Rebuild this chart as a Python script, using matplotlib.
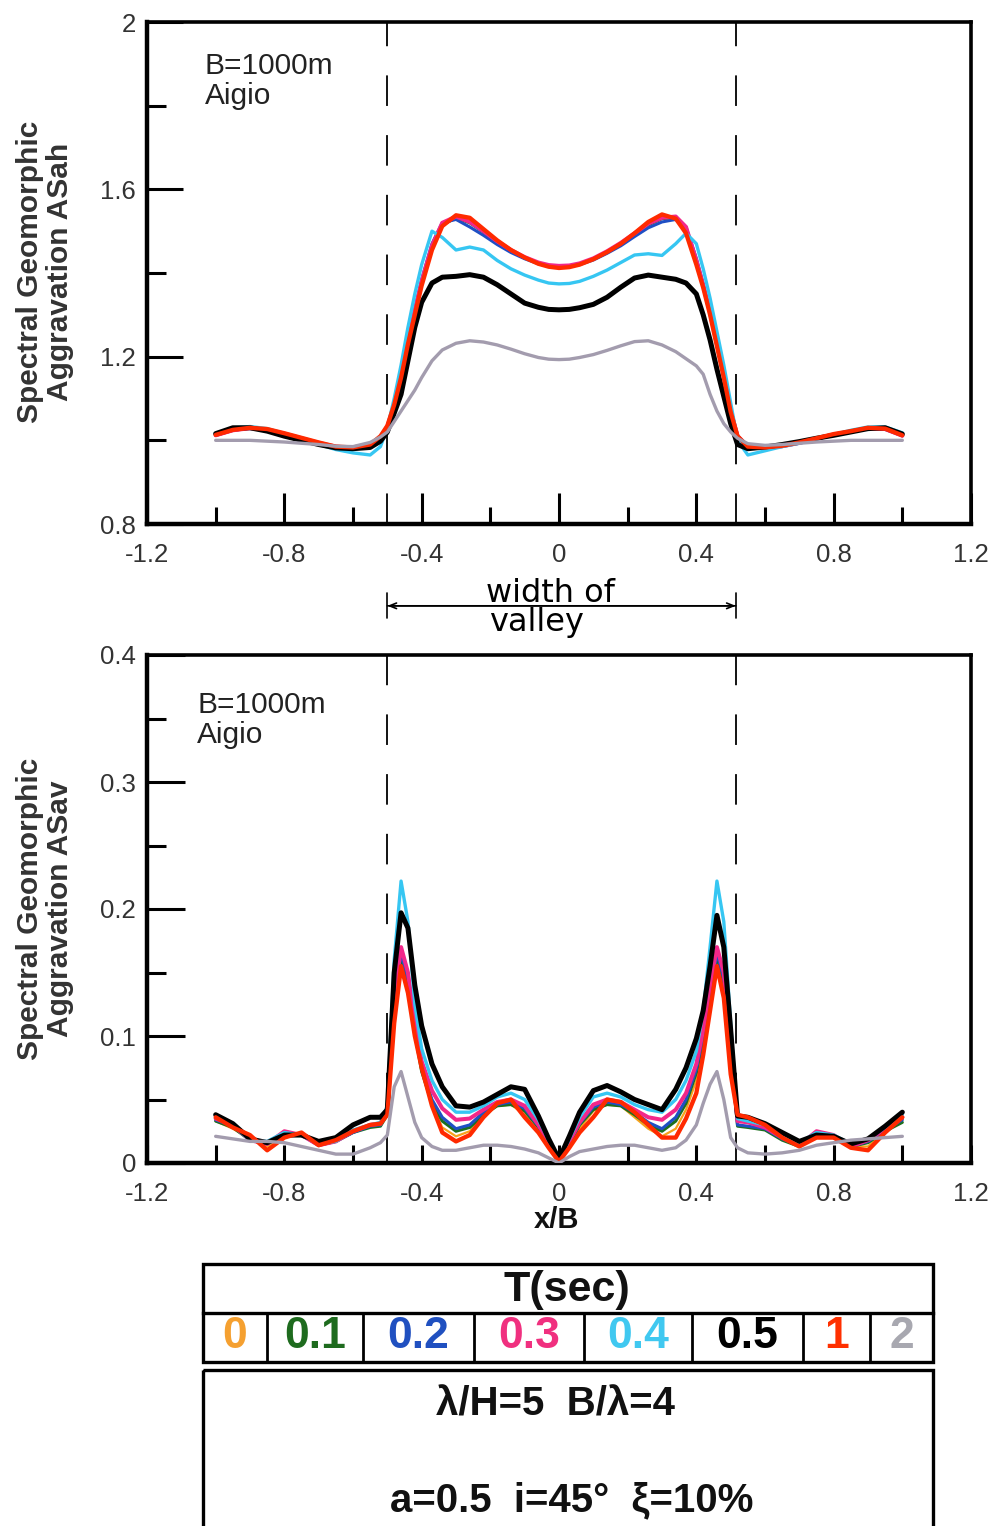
import matplotlib
matplotlib.use("Agg")
import matplotlib.pyplot as plt
from matplotlib.patches import Rectangle
from matplotlib.ticker import MultipleLocator, FuncFormatter

plt.rcParams['font.family'] = ['Liberation Sans', 'DejaVu Sans']
plt.rcParams['axes.unicode_minus'] = False
plt.rcParams['lines.scale_dashes'] = False

# ---------------------------------------------------------------- data
# normalised position across the valley
X = [-1.0, -0.95, -0.9, -0.85, -0.8, -0.75, -0.7, -0.65, -0.6, -0.55,
     -0.52, -0.5, -0.48, -0.46, -0.44, -0.42, -0.4, -0.37, -0.34, -0.3,
     -0.26, -0.22, -0.18, -0.14, -0.1, -0.06, -0.03, 0.0, 0.03, 0.06,
     0.1, 0.14, 0.18, 0.22, 0.26, 0.3, 0.34, 0.37, 0.4, 0.42,
     0.44, 0.46, 0.48, 0.5, 0.52, 0.55, 0.6, 0.65, 0.7, 0.75,
     0.8, 0.85, 0.9, 0.95, 1.0]

PERIODS = ['0', '0.1', '0.2', '0.3', '0.4', '0.5', '1', '2']
COLORS = ['#f7a21b', '#1d6f1d', '#1f4fc4', '#f2278a', '#36c6f2',
          '#000000', '#ff2a00', '#a39cae']
LEGEND_COLORS = ['#f5a030', '#1e6b1e', '#2050c0', '#f0307f', '#40c8f0',
                 '#000000', '#ff3000', '#a8a8b0']
LINE_WIDTHS = [1.6, 2.2, 2.2, 2.9, 2.4, 3.6, 3.1, 2.4]
DRAW_ORDER = [0, 1, 2, 3, 7, 4, 5, 6]

VALLEY_EDGES = [-0.5, 0.515]

# horizontal spectral aggravation ASah
ASAH_T0 = [1.012, 1.024, 1.029, 1.026, 1.016, 1.005, 0.994, 0.985, 0.982, 0.989,
           1.009, 1.034, 1.086, 1.152, 1.232, 1.303, 1.372, 1.457, 1.512, 1.535,
           1.528, 1.502, 1.476, 1.454, 1.436, 1.422, 1.416, 1.414, 1.415, 1.421,
           1.434, 1.450, 1.469, 1.493, 1.519, 1.536, 1.531, 1.500, 1.425, 1.368,
           1.302, 1.228, 1.152, 1.070, 1.011, 0.985, 0.982, 0.986, 0.994, 1.004,
           1.014, 1.021, 1.029, 1.027, 1.011]
ASAH_T01 = [1.012, 1.024, 1.029, 1.026, 1.016, 1.005, 0.994, 0.985, 0.982, 0.988,
            1.008, 1.034, 1.086, 1.155, 1.232, 1.305, 1.375, 1.460, 1.515, 1.532,
            1.520, 1.498, 1.474, 1.453, 1.436, 1.423, 1.417, 1.415, 1.416, 1.421,
            1.433, 1.449, 1.469, 1.492, 1.515, 1.530, 1.532, 1.505, 1.430, 1.370,
            1.305, 1.230, 1.155, 1.070, 1.010, 0.985, 0.982, 0.986, 0.994, 1.004,
            1.014, 1.021, 1.029, 1.027, 1.011]
ASAH_T02 = [1.012, 1.024, 1.029, 1.025, 1.015, 1.004, 0.993, 0.984, 0.981, 0.987,
            1.007, 1.033, 1.088, 1.160, 1.240, 1.315, 1.385, 1.470, 1.520, 1.528,
            1.510, 1.490, 1.468, 1.449, 1.434, 1.422, 1.416, 1.414, 1.415, 1.420,
            1.431, 1.447, 1.465, 1.487, 1.508, 1.522, 1.528, 1.510, 1.435, 1.375,
            1.310, 1.235, 1.160, 1.075, 1.012, 0.984, 0.981, 0.985, 0.993, 1.003,
            1.013, 1.021, 1.028, 1.026, 1.011]
ASAH_T03 = [1.012, 1.024, 1.029, 1.026, 1.016, 1.005, 0.994, 0.985, 0.982, 0.988,
            1.008, 1.033, 1.085, 1.155, 1.235, 1.310, 1.380, 1.465, 1.520, 1.535,
            1.522, 1.500, 1.476, 1.455, 1.438, 1.425, 1.419, 1.417, 1.418, 1.423,
            1.435, 1.452, 1.472, 1.495, 1.518, 1.532, 1.535, 1.510, 1.430, 1.370,
            1.305, 1.230, 1.155, 1.070, 1.010, 0.985, 0.982, 0.986, 0.994, 1.004,
            1.014, 1.021, 1.029, 1.027, 1.011]
ASAH_T04 = [1.016, 1.030, 1.033, 1.028, 1.016, 1.003, 0.990, 0.978, 0.970, 0.965,
            0.985, 1.030, 1.100, 1.180, 1.270, 1.350, 1.420, 1.500, 1.485, 1.455,
            1.462, 1.455, 1.430, 1.410, 1.395, 1.383, 1.376, 1.374, 1.375, 1.380,
            1.392, 1.407, 1.425, 1.443, 1.446, 1.442, 1.470, 1.495, 1.470, 1.410,
            1.340, 1.260, 1.180, 1.090, 1.000, 0.965, 0.975, 0.985, 0.993, 1.003,
            1.014, 1.024, 1.032, 1.032, 1.018]
ASAH_T05 = [1.016, 1.030, 1.030, 1.022, 1.010, 1.000, 0.990, 0.982, 0.980, 0.983,
            0.998, 1.020, 1.065, 1.110, 1.190, 1.270, 1.330, 1.376, 1.390, 1.392,
            1.396, 1.390, 1.372, 1.350, 1.328, 1.318, 1.313, 1.312, 1.313, 1.317,
            1.325, 1.342, 1.366, 1.388, 1.395, 1.390, 1.385, 1.376, 1.350, 1.300,
            1.240, 1.170, 1.105, 1.040, 0.990, 0.980, 0.984, 0.990, 0.997, 1.005,
            1.012, 1.020, 1.028, 1.030, 1.015]
ASAH_T1 = [1.013, 1.025, 1.030, 1.027, 1.017, 1.006, 0.995, 0.985, 0.983, 0.990,
           1.010, 1.035, 1.085, 1.150, 1.230, 1.300, 1.370, 1.455, 1.512, 1.538,
           1.532, 1.505, 1.478, 1.455, 1.437, 1.422, 1.415, 1.412, 1.414, 1.420,
           1.433, 1.450, 1.470, 1.495, 1.522, 1.540, 1.530, 1.495, 1.420, 1.365,
           1.300, 1.225, 1.150, 1.068, 1.010, 0.985, 0.983, 0.987, 0.995, 1.005,
           1.015, 1.022, 1.030, 1.028, 1.012]
ASAH_T2 = [1.000, 1.000, 1.000, 0.998, 0.996, 0.993, 0.990, 0.986, 0.985, 0.995,
           1.008, 1.020, 1.045, 1.070, 1.095, 1.120, 1.150, 1.190, 1.216, 1.232,
           1.238, 1.235, 1.228, 1.218, 1.207, 1.198, 1.194, 1.193, 1.194, 1.198,
           1.205, 1.215, 1.226, 1.236, 1.238, 1.228, 1.212, 1.195, 1.178, 1.158,
           1.110, 1.070, 1.040, 1.020, 1.005, 0.992, 0.988, 0.990, 0.993, 0.996,
           0.998, 1.000, 1.000, 1.000, 1.000]

# vertical spectral aggravation ASav
ASAV_T0 = [0.033, 0.027, 0.019, 0.013, 0.022, 0.023, 0.014, 0.017, 0.024, 0.029,
           0.030, 0.038, 0.120, 0.160, 0.140, 0.100, 0.072, 0.045, 0.028, 0.021,
           0.025, 0.037, 0.045, 0.046, 0.038, 0.025, 0.013, 0.001, 0.013, 0.027,
           0.041, 0.046, 0.045, 0.036, 0.027, 0.021, 0.027, 0.042, 0.065, 0.092,
           0.128, 0.160, 0.140, 0.082, 0.034, 0.033, 0.028, 0.019, 0.013, 0.021,
           0.020, 0.013, 0.013, 0.025, 0.034]
ASAV_T01 = [0.033, 0.028, 0.018, 0.015, 0.023, 0.022, 0.014, 0.017, 0.024, 0.028,
            0.029, 0.038, 0.126, 0.163, 0.142, 0.102, 0.072, 0.047, 0.033, 0.025,
            0.028, 0.038, 0.045, 0.046, 0.041, 0.028, 0.014, 0.002, 0.015, 0.030,
            0.042, 0.046, 0.045, 0.038, 0.030, 0.025, 0.033, 0.047, 0.071, 0.097,
            0.132, 0.163, 0.142, 0.086, 0.029, 0.028, 0.026, 0.018, 0.013, 0.023,
            0.020, 0.013, 0.016, 0.025, 0.032]
ASAV_T02 = [0.034, 0.029, 0.018, 0.015, 0.024, 0.022, 0.014, 0.017, 0.024, 0.029,
            0.030, 0.039, 0.128, 0.165, 0.145, 0.105, 0.075, 0.050, 0.036, 0.027,
            0.030, 0.040, 0.046, 0.048, 0.043, 0.029, 0.015, 0.002, 0.016, 0.031,
            0.044, 0.048, 0.046, 0.040, 0.032, 0.027, 0.036, 0.050, 0.074, 0.100,
            0.135, 0.165, 0.145, 0.088, 0.030, 0.029, 0.027, 0.019, 0.014, 0.024,
            0.021, 0.013, 0.017, 0.026, 0.034]
ASAV_T03 = [0.035, 0.030, 0.018, 0.015, 0.025, 0.022, 0.014, 0.017, 0.025, 0.030,
            0.031, 0.040, 0.130, 0.170, 0.150, 0.110, 0.080, 0.057, 0.043, 0.034,
            0.035, 0.042, 0.048, 0.050, 0.045, 0.030, 0.016, 0.002, 0.017, 0.032,
            0.046, 0.050, 0.048, 0.042, 0.036, 0.034, 0.042, 0.055, 0.078, 0.105,
            0.140, 0.170, 0.150, 0.090, 0.033, 0.032, 0.028, 0.020, 0.014, 0.025,
            0.022, 0.013, 0.018, 0.027, 0.036]
ASAV_T04 = [0.036, 0.030, 0.018, 0.017, 0.024, 0.022, 0.015, 0.017, 0.026, 0.030,
            0.032, 0.045, 0.160, 0.222, 0.190, 0.125, 0.090, 0.065, 0.050, 0.040,
            0.040, 0.045, 0.052, 0.055, 0.050, 0.034, 0.018, 0.002, 0.019, 0.036,
            0.052, 0.055, 0.052, 0.046, 0.042, 0.040, 0.050, 0.065, 0.088, 0.120,
            0.170, 0.222, 0.190, 0.110, 0.035, 0.033, 0.030, 0.022, 0.016, 0.024,
            0.022, 0.015, 0.019, 0.028, 0.038]
ASAV_T05 = [0.038, 0.031, 0.019, 0.016, 0.022, 0.022, 0.017, 0.020, 0.030, 0.036,
            0.036, 0.042, 0.150, 0.197, 0.185, 0.140, 0.108, 0.078, 0.060, 0.045,
            0.044, 0.048, 0.054, 0.060, 0.058, 0.037, 0.019, 0.003, 0.021, 0.040,
            0.057, 0.061, 0.056, 0.050, 0.046, 0.042, 0.058, 0.075, 0.098, 0.120,
            0.155, 0.195, 0.170, 0.105, 0.037, 0.036, 0.031, 0.024, 0.017, 0.022,
            0.021, 0.015, 0.019, 0.029, 0.040]
ASAV_T1 = [0.036, 0.028, 0.022, 0.010, 0.020, 0.024, 0.014, 0.018, 0.025, 0.030,
           0.031, 0.038, 0.110, 0.155, 0.134, 0.100, 0.075, 0.045, 0.024, 0.017,
           0.022, 0.036, 0.047, 0.050, 0.036, 0.024, 0.012, 0.001, 0.012, 0.024,
           0.036, 0.050, 0.048, 0.040, 0.030, 0.020, 0.020, 0.035, 0.055, 0.085,
           0.120, 0.155, 0.130, 0.070, 0.038, 0.036, 0.030, 0.020, 0.013, 0.020,
           0.020, 0.012, 0.010, 0.024, 0.036]
ASAV_T2 = [0.021, 0.019, 0.017, 0.017, 0.016, 0.013, 0.010, 0.007, 0.007, 0.012,
           0.016, 0.022, 0.060, 0.072, 0.052, 0.032, 0.020, 0.013, 0.010, 0.010,
           0.012, 0.014, 0.014, 0.013, 0.011, 0.008, 0.004, 0.000, 0.005, 0.009,
           0.011, 0.013, 0.014, 0.014, 0.012, 0.010, 0.012, 0.018, 0.030, 0.047,
           0.062, 0.072, 0.050, 0.020, 0.012, 0.008, 0.007, 0.008, 0.010, 0.014,
           0.016, 0.018, 0.019, 0.020, 0.021]

ASAH = [ASAH_T0, ASAH_T01, ASAH_T02, ASAH_T03, ASAH_T04, ASAH_T05, ASAH_T1, ASAH_T2]
ASAV = [ASAV_T0, ASAV_T01, ASAV_T02, ASAV_T03, ASAV_T04, ASAV_T05, ASAV_T1, ASAV_T2]

TEXT_GREY = '#333333'

# ---------------------------------------------------------------- figure
fig = plt.figure(figsize=(9.96, 15.26), dpi=100)
W, H = 996.0, 1526.0
ax1 = fig.add_axes([147 / W, 1 - 524 / H, 824 / W, 502 / H])
ax2 = fig.add_axes([147 / W, 1 - 1163 / H, 824 / W, 508 / H])


def fmt(v, _pos):
    return ('%g' % round(v, 3))


def style(ax, ylim, ymaj, ymin, ymaj_len, ymin_len, xmaj_len, xmin_len):
    ax.set_xlim(-1.2, 1.2)
    ax.set_ylim(*ylim)
    ax.xaxis.set_major_locator(MultipleLocator(0.4))
    ax.xaxis.set_minor_locator(MultipleLocator(0.2))
    ax.yaxis.set_major_locator(MultipleLocator(ymaj))
    ax.yaxis.set_minor_locator(MultipleLocator(ymin))
    ax.xaxis.set_major_formatter(FuncFormatter(fmt))
    ax.yaxis.set_major_formatter(FuncFormatter(fmt))
    ax.tick_params(which='both', direction='in', width=2.2, color='black',
                   labelcolor=TEXT_GREY, labelsize=18.5, top=False, right=False)
    ax.tick_params(axis='y', which='major', length=ymaj_len, pad=8)
    ax.tick_params(axis='y', which='minor', length=ymin_len)
    ax.tick_params(axis='x', which='major', length=xmaj_len, pad=14)
    ax.tick_params(axis='x', which='minor', length=xmin_len)
    for side in ('left', 'bottom'):
        ax.spines[side].set_linewidth(3.2)
    for side in ('top', 'right'):
        ax.spines[side].set_linewidth(2.6)
    for edge in VALLEY_EDGES:
        ax.axvline(edge, color='black', lw=1.3, dashes=(22, 21), zorder=1)
    ax.text(0.07, 0.94, 'B=1000m\nAigio', transform=ax.transAxes,
            fontsize=21.5, color='#222222', va='top', ha='left', linespacing=1.1)


style(ax1, (0.8, 2.0), 0.4, 0.2, 26, 14, 22, 12)
style(ax2, (0.0, 0.4), 0.1, 0.05, 27, 14, 13, 13)
ax2.texts[0].set_position((0.061, 0.93))

for i in DRAW_ORDER:
    ax1.plot(X, ASAH[i], color=COLORS[i], lw=LINE_WIDTHS[i], zorder=3 + i,
             solid_joinstyle='round', solid_capstyle='round')
    ax2.plot(X, ASAV[i], color=COLORS[i], lw=LINE_WIDTHS[i], zorder=3 + i,
             solid_joinstyle='round', solid_capstyle='round')

# axis titles
fig.text(45 / W, 1 - 272 / H, 'Spectral Geomorphic\nAggravation ASah',
         rotation=90, ha='center', va='center', fontsize=21.5, fontweight='bold',
         color=TEXT_GREY, linespacing=1.08)
fig.text(45 / W, 1 - 909 / H, 'Spectral Geomorphic\nAggravation ASav',
         rotation=90, ha='center', va='center', fontsize=21.5, fontweight='bold',
         color=TEXT_GREY, linespacing=1.08)
fig.text(557 / W, 1 - 1220 / H, 'x/B', ha='center', va='center',
         fontsize=21, fontweight='bold', color='#111111')

# valley width marker below the upper panel
xt = ax1.get_xaxis_transform()
ax1.annotate('', xy=(VALLEY_EDGES[1], -0.163), xytext=(VALLEY_EDGES[0], -0.163),
             xycoords=xt, textcoords=xt, annotation_clip=False,
             arrowprops=dict(arrowstyle='|-|,widthA=0.9,widthB=0.9', lw=1.2,
                             color='black', shrinkA=0, shrinkB=0))
ax1.annotate('', xy=(VALLEY_EDGES[1], -0.163), xytext=(VALLEY_EDGES[0], -0.163),
             xycoords=xt, textcoords=xt, annotation_clip=False,
             arrowprops=dict(arrowstyle='<->,head_length=0.5,head_width=0.2',
                             lw=1.2, color='black', shrinkA=0, shrinkB=0))
ax1.text(-0.026, -0.155, 'width of', transform=xt, ha='center', va='baseline',
         fontsize=23, family='DejaVu Sans', clip_on=False)
ax1.text(-0.064, -0.166, 'valley', transform=xt, ha='center', va='top',
         fontsize=23, family='DejaVu Sans', clip_on=False)

# legend panel
lg = fig.add_axes([0, 0, 1, 1], facecolor='none')
lg.set_xlim(0, W)
lg.set_ylim(H, 0)
lg.axis('off')
box_lw = 2.4
lg.add_patch(Rectangle((203, 1264), 730, 98, fill=False, lw=box_lw, ec='black'))
lg.plot([203, 933], [1313, 1313], color='black', lw=box_lw)
cell_edges = [203, 267, 363, 474, 584, 692, 803, 870, 933]
for xe in cell_edges[1:-1]:
    lg.plot([xe, xe], [1313, 1362], color='black', lw=2.0)
lg.text(567, 1290, 'T(sec)', ha='center', va='center', fontsize=31,
        fontweight='bold', color='#111111')
for k, lab in enumerate(PERIODS):
    cx = 0.5 * (cell_edges[k] + cell_edges[k + 1])
    lg.text(cx, 1337, lab, ha='center', va='center', fontsize=32,
            fontweight='bold', color=LEGEND_COLORS[k])

lg.add_patch(Rectangle((203, 1370), 730, 220, fill=False, lw=box_lw, ec='black'))
lg.text(555, 1405, 'λ/H=5  B/λ=4', ha='center', va='center', fontsize=29,
        fontweight='bold', color='#111111')
lg.text(572, 1500, 'a=0.5  i=45°  ξ=10%', ha='center', va='center', fontsize=29,
        fontweight='bold', color='#111111')

fig.savefig('out.png', dpi=100)
